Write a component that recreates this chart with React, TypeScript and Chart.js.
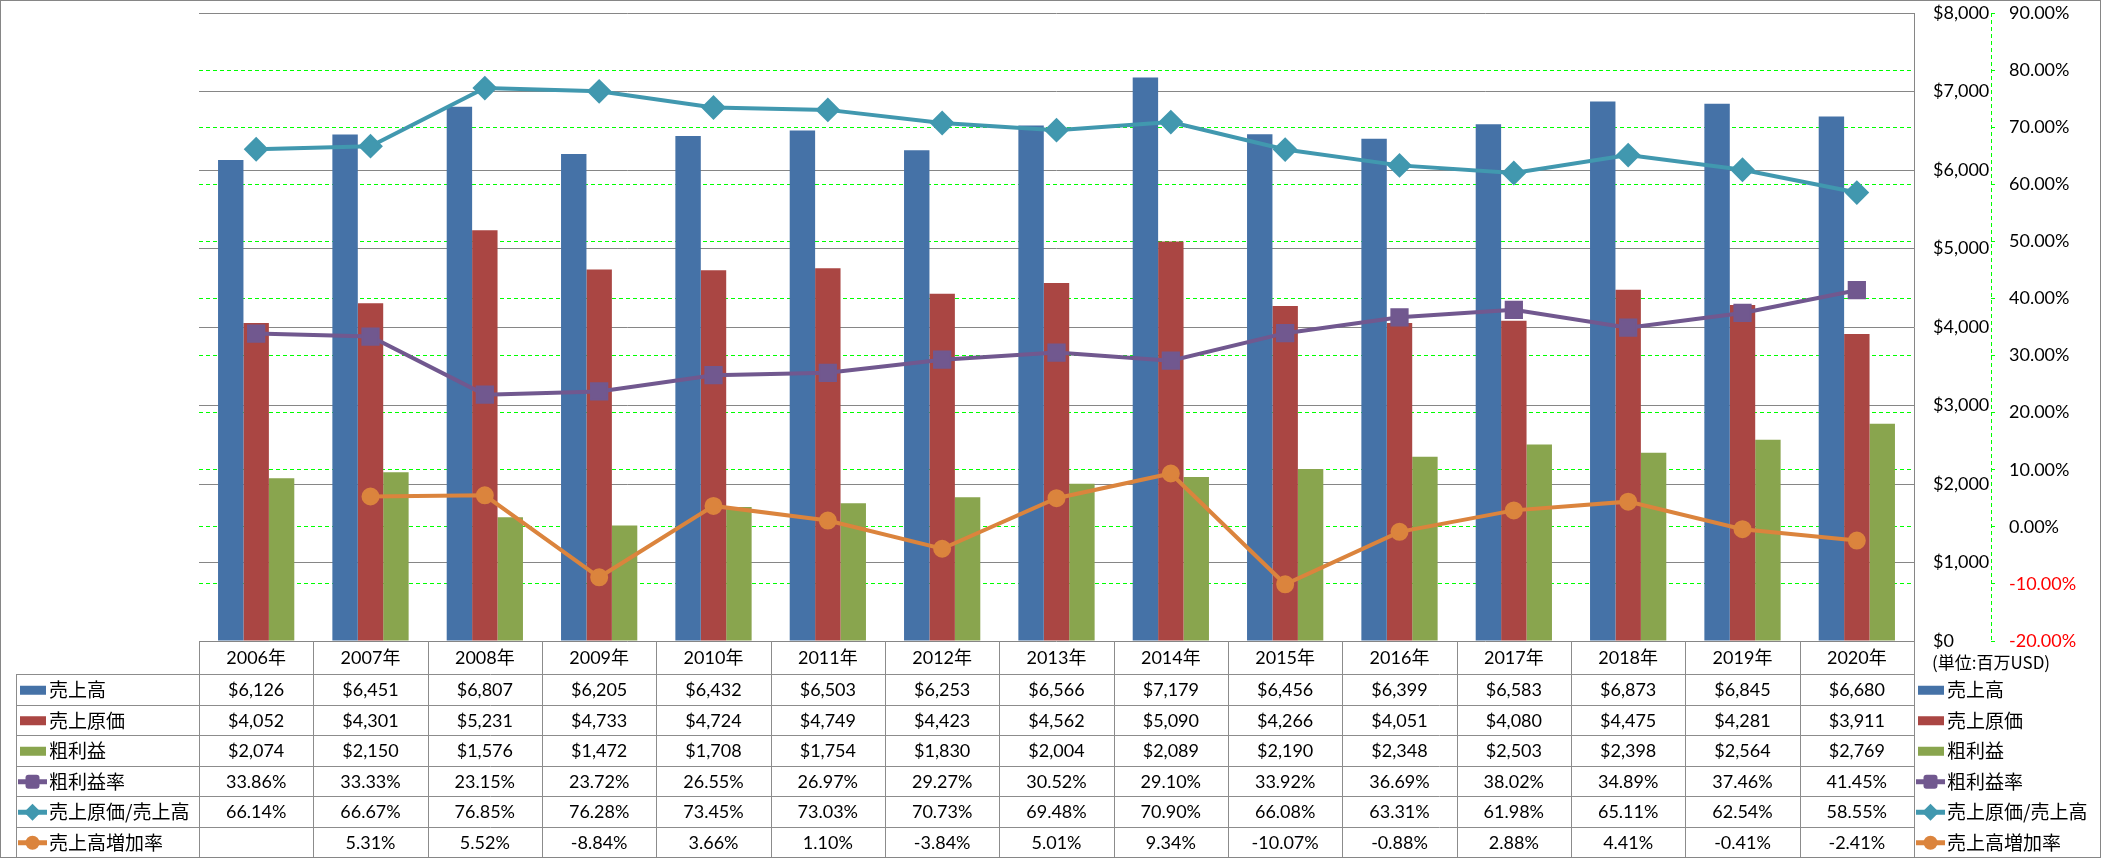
import React, { useEffect, useRef } from 'react';
import { Chart, registerables } from 'chart.js';

Chart.register(...registerables);

// ---- data ----
const years = ['2006年', '2007年', '2008年', '2009年', '2010年', '2011年', '2012年', '2013年', '2014年', '2015年', '2016年', '2017年', '2018年', '2019年', '2020年'];
const sales = [6126, 6451, 6807, 6205, 6432, 6503, 6253, 6566, 7179, 6456, 6399, 6583, 6873, 6845, 6680];
const cogs = [4052, 4301, 5231, 4733, 4724, 4749, 4423, 4562, 5090, 4266, 4051, 4080, 4475, 4281, 3911];
const grossProfit = [2074, 2150, 1576, 1472, 1708, 1754, 1830, 2004, 2089, 2190, 2348, 2503, 2398, 2564, 2769];
const grossMargin = [33.86, 33.33, 23.15, 23.72, 26.55, 26.97, 29.27, 30.52, 29.10, 33.92, 36.69, 38.02, 34.89, 37.46, 41.45];
const cogsRatio = [66.14, 66.67, 76.85, 76.28, 73.45, 73.03, 70.73, 69.48, 70.90, 66.08, 63.31, 61.98, 65.11, 62.54, 58.55];
const salesGrowth = [null, 5.31, 5.52, -8.84, 3.66, 1.10, -3.84, 5.01, 9.34, -10.07, -0.88, 2.88, 4.41, -0.41, -2.41];

const seriesNames = ['売上高', '売上原価', '粗利益', '粗利益率', '売上原価/売上高', '売上高増加率'];
const unitLabel = '(単位:百万USD)';

const BLUE = '#4572A7';
const RED = '#AA4643';
const GREEN = '#89A54E';
const PURPLE = '#71588F';
const TEAL = '#4198AF';
const ORANGE = '#DB843D';
const GRID = '#868686';
const LIME = '#00ff00';

const LATIN = 'Lato';
const CJK = '"Noto Sans CJK JP"';

const dollar = (v: number | null) => (v == null ? '' : '$' + v.toLocaleString('en-US'));
const pct = (v: number | null) => (v == null ? '' : v.toFixed(2) + '%');

type Kind = 'bar' | 'square' | 'diamond' | 'circle';
const tableRows: { name: string; values: (number | null)[]; fmt: (v: number | null) => string; kind: Kind; color: string }[] = [
  { name: seriesNames[0], values: sales, fmt: dollar, kind: 'bar', color: BLUE },
  { name: seriesNames[1], values: cogs, fmt: dollar, kind: 'bar', color: RED },
  { name: seriesNames[2], values: grossProfit, fmt: dollar, kind: 'bar', color: GREEN },
  { name: seriesNames[3], values: grossMargin, fmt: pct, kind: 'square', color: PURPLE },
  { name: seriesNames[4], values: cogsRatio, fmt: pct, kind: 'diamond', color: TEAL },
  { name: seriesNames[5], values: salesGrowth, fmt: pct, kind: 'circle', color: ORANGE },
];

function drawIcon(ctx: CanvasRenderingContext2D, kind: Kind, color: string, x0: number, x1: number, cy: number) {
  ctx.save();
  ctx.fillStyle = color;
  ctx.strokeStyle = color;
  if (kind === 'bar') {
    ctx.fillRect(x0 + 2, cy - 4.5, x1 - x0 - 3, 9);
    ctx.restore();
    return;
  }
  const cx = (x0 + x1) / 2;
  ctx.lineWidth = 5;
  ctx.beginPath();
  ctx.moveTo(x0, cy);
  ctx.lineTo(x1, cy);
  ctx.stroke();
  ctx.beginPath();
  if (kind === 'square') {
    const s = 14;
    (ctx as any).roundRect(cx - s / 2, cy - s / 2, s, s, 3);
  } else if (kind === 'diamond') {
    const r = 8.5;
    ctx.moveTo(cx - r, cy);
    ctx.lineTo(cx, cy - r);
    ctx.lineTo(cx + r, cy);
    ctx.lineTo(cx, cy + r);
    ctx.closePath();
  } else {
    ctx.arc(cx, cy, 7, 0, Math.PI * 2);
  }
  ctx.fill();
  ctx.restore();
}

const tablePlugin = {
  id: 'dataTable',
  afterDraw(chart: any) {
    const ctx: CanvasRenderingContext2D = chart.ctx;
    const xs = chart.scales.x;
    const y1 = chart.scales.y1;
    const area = chart.chartArea;
    const W = chart.width;
    const H = chart.height;
    const n = years.length;
    const colW = xs.getPixelForValue(1) - xs.getPixelForValue(0);
    const tableLeft = 16;
    const headerH = 33;
    const rowH = (H - 1 - area.bottom - headerH) / tableRows.length;
    const top = area.bottom;
    const rowTop = (k: number) => top + headerH + k * rowH;

    ctx.save();
    // dashed green secondary axis line
    ctx.strokeStyle = LIME;
    ctx.lineWidth = 1;
    ctx.setLineDash([4, 3]);
    ctx.beginPath();
    ctx.moveTo(Math.round(y1.left) + 0.5, y1.top);
    ctx.lineTo(Math.round(y1.left) + 0.5, y1.bottom);
    ctx.stroke();
    ctx.setLineDash([]);

    // table grid
    ctx.strokeStyle = '#8c8c8c';
    ctx.lineWidth = 1;
    ctx.beginPath();
    for (let k = 0; k <= tableRows.length; k++) {
      const y = Math.round(rowTop(k)) + 0.5;
      ctx.moveTo(tableLeft, y);
      ctx.lineTo(area.right, y);
    }
    ctx.moveTo(tableLeft + 0.5, rowTop(0));
    ctx.lineTo(tableLeft + 0.5, H);
    for (let i = 0; i <= n; i++) {
      const x = Math.round(xs.getPixelForValue(0) - colW / 2 + i * colW) + 0.5;
      ctx.moveTo(x, top);
      ctx.lineTo(x, H);
    }
    ctx.stroke();

    // outer border
    ctx.strokeStyle = GRID;
    ctx.strokeRect(0.5, 0.5, W - 1, H - 1);

    // header years
    ctx.fillStyle = '#000';
    ctx.textBaseline = 'middle';
    ctx.textAlign = 'center';
    ctx.font = `18px ${LATIN}, ${CJK}`;
    years.forEach((yr, i) => {
      ctx.fillText(yr, xs.getPixelForValue(i), top + headerH / 2 + 1);
    });

    // rows
    tableRows.forEach((row, k) => {
      const cy = rowTop(k) + rowH / 2 + 1;
      ctx.textAlign = 'center';
      ctx.font = `18px ${LATIN}`;
      ctx.fillStyle = '#000';
      row.values.forEach((v, i) => {
        const s = row.fmt(v);
        if (s) ctx.fillText(s, xs.getPixelForValue(i), cy);
      });
      // left legend
      drawIcon(ctx, row.kind, row.color, 18, 47, cy);
      ctx.textAlign = 'left';
      ctx.font = `19px ${CJK}`;
      ctx.fillStyle = '#000';
      ctx.fillText(row.name, 49, cy);
      // right legend
      drawIcon(ctx, row.kind, row.color, area.right + 2, area.right + 31, cy);
      ctx.fillStyle = '#000';
      ctx.fillText(row.name, area.right + 33, cy);
    });

    // unit label
    ctx.font = `17px ${CJK}`;
    ctx.textAlign = 'left';
    ctx.fillText(unitLabel, area.right + 18, top + 22);
    ctx.restore();
  },
};

export default function App() {
  const ref = useRef<HTMLCanvasElement>(null);
  useEffect(() => {
    document.body.style.margin = '0';
    const canvas = ref.current!;
    Chart.defaults.font.family = LATIN;
    const chart = new Chart(canvas, {
      type: 'bar',
      data: {
        labels: years,
        datasets: [
          { type: 'line', label: seriesNames[3], data: grossMargin, yAxisID: 'y1', borderColor: PURPLE, backgroundColor: PURPLE, borderWidth: 4, pointStyle: 'rect', pointRadius: 11.5, pointBorderWidth: 2, order: 1 },
          { type: 'line', label: seriesNames[4], data: cogsRatio, yAxisID: 'y1', borderColor: TEAL, backgroundColor: TEAL, borderWidth: 4, pointStyle: 'rectRot', pointRadius: 11, pointBorderWidth: 2, order: 1 },
          { type: 'line', label: seriesNames[5], data: salesGrowth, yAxisID: 'y1', borderColor: ORANGE, backgroundColor: ORANGE, borderWidth: 4, pointStyle: 'circle', pointRadius: 8, pointBorderWidth: 2, order: 1 },
          { type: 'bar', label: seriesNames[0], data: sales, yAxisID: 'y', backgroundColor: BLUE, categoryPercentage: 0.667, barPercentage: 1, order: 2 },
          { type: 'bar', label: seriesNames[1], data: cogs, yAxisID: 'y', backgroundColor: RED, categoryPercentage: 0.667, barPercentage: 1, order: 2 },
          { type: 'bar', label: seriesNames[2], data: grossProfit, yAxisID: 'y', backgroundColor: GREEN, categoryPercentage: 0.667, barPercentage: 1, order: 2 },
        ] as any,
      },
      options: {
        responsive: false,
        animation: false,
        devicePixelRatio: 1,
        layout: { padding: { left: 199, top: 13, bottom: 217, right: 0 }, autoPadding: false } as any,
        plugins: { legend: { display: false }, tooltip: { enabled: false }, title: { display: false } },
        scales: {
          x: { display: false },
          y: {
            position: 'right',
            min: 0,
            max: 8000,
            ticks: { stepSize: 1000, padding: 19, color: '#000', font: { size: 18, family: LATIN }, callback: (v: any) => dollar(Number(v)) },
            grid: { color: GRID, lineWidth: 1, drawTicks: false },
            border: { display: true, color: GRID, width: 1 },
            afterFit: (s: any) => { s.width = 77; s.paddingTop = 0; s.paddingBottom = 0; },
          },
          y1: {
            position: 'right',
            min: -20,
            max: 90,
            ticks: {
              stepSize: 10,
              padding: 14,
              font: { size: 18, family: LATIN },
              color: (c: any) => (c.tick && c.tick.value < 0 ? '#ff0000' : '#000'),
              callback: (v: any) => pct(Number(v)),
            },
            grid: {
              color: (c: any) => (c.tick && (c.tick.value === 90 || c.tick.value === -20) ? 'rgba(0,0,0,0)' : LIME),
              tickColor: LIME,
              lineWidth: 1,
              drawTicks: true,
              tickLength: 4,
              tickBorderDash: [],
            },
            border: { display: false, dash: [4, 3] },
            afterFit: (s: any) => { s.width = 110; s.paddingTop = 0; s.paddingBottom = 0; },
          },
        } as any,
      },
      plugins: [tablePlugin],
    });
    return () => chart.destroy();
  }, []);
  return <canvas ref={ref} width={2101} height={858} style={{ display: 'block' }} />;
}
